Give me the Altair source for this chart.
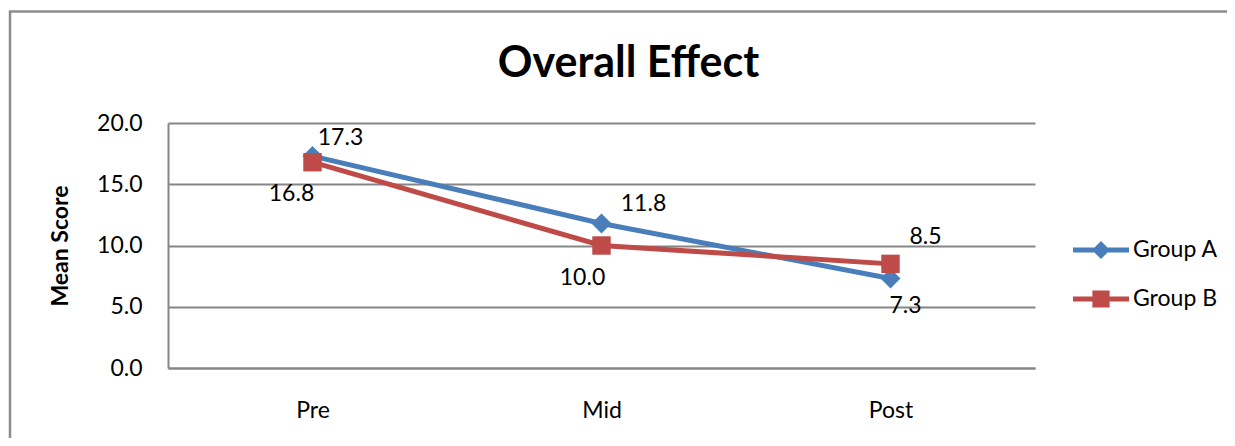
import altair as alt
import pandas as pd

# ---- data ----
times = ["Pre", "Mid", "Post"]
groups = ["Group A", "Group B"]
group_a = [17.3, 11.8, 7.3]
group_b = [16.8, 10.0, 8.5]
chart_title = "Overall Effect"

rows = []
for g, vals in zip(groups, [group_a, group_b]):
    for t, v in zip(times, vals):
        rows.append({"Time": t, "Group": g, "Score": v})
df = pd.DataFrame(rows)

# ---- styles ----
FONT = "Lato"
BLUE = "#4A7EBB"
RED = "#BE4B48"
GRID = "#868686"
colors = [BLUE, RED]
shapes = ["diamond", "square"]
sizes = [400, 340]
# label offsets (dx, dy) per group, per time
label_offsets = {
    "Group A": [(28, -18), (42, -19), (15, 27)],
    "Group B": [(-21, 32), (-19, 32), (35, -27)],
}

W, H = 867, 245

x_enc = alt.X("Time:N", sort=times,
              scale=alt.Scale(type="point", padding=0.5, domain=times),
              axis=alt.Axis(title=None, labelAngle=0, ticks=False, grid=False,
                            domain=True, domainColor=GRID, domainWidth=2,
                            labelFont=FONT, labelFontSize=23, labelColor="black",
                            labelPadding=31))
y_enc = alt.Y("Score:Q", scale=alt.Scale(domain=[0, 20], nice=False),
              axis=alt.Axis(title="Mean Score", values=[0, 5, 10, 15, 20], format=".1f",
                            grid=True, gridColor=GRID, gridWidth=2,
                            domain=True, domainColor=GRID, domainWidth=2,
                            ticks=False, labelFont=FONT, labelFontSize=23,
                            labelColor="black", labelPadding=26,
                            titleFont=FONT, titleFontSize=23, titleFontWeight="bold",
                            titleColor="black", titlePadding=24))

base = alt.Chart(df)

lines = base.mark_line(strokeWidth=5).encode(
    x=x_enc, y=y_enc,
    color=alt.Color("Group:N", scale=alt.Scale(domain=groups, range=colors), legend=None),
)

layers = [lines]
for g, c, s, sz in zip(groups, colors, shapes, sizes):
    layers.append(
        base.transform_filter(alt.datum.Group == g)
        .mark_point(shape=s, size=sz, filled=True, opacity=1, color=c, strokeWidth=0)
        .encode(x=x_enc, y=y_enc)
    )

for g in groups:
    for t, (dx, dy) in zip(times, label_offsets[g]):
        layers.append(
            base.transform_filter((alt.datum.Group == g) & (alt.datum.Time == t))
            .mark_text(font=FONT, fontSize=23, color="black", dx=dx, dy=dy,
                       align="center", baseline="middle")
            .encode(x=x_enc, y=y_enc, text=alt.Text("Score:Q", format=".1f"))
        )

# legend layer (empty data, explicit domains)
path_a = "M-1.4,-0.125L1.4,-0.125L1.4,0.125L-1.4,0.125Z M0,-0.45L0.45,0L0,0.45L-0.45,0Z"
path_b = "M-1.4,-0.125L1.4,-0.125L1.4,0.125L-1.4,0.125Z M-0.43,-0.43L0.43,-0.43L0.43,0.43L-0.43,0.43Z"
leg = alt.Legend(title=None, orient="none", legendX=913, legendY=107,
                 symbolSize=1600, symbolStrokeWidth=0, labelFont=FONT,
                 labelFontSize=23, labelColor="black", labelOffset=12,
                 rowPadding=17, padding=0)
legend_layer = base.transform_filter("false").mark_point(filled=True, opacity=1, strokeWidth=0).encode(
    x=x_enc, y=y_enc,
    color=alt.Color("Group:N", scale=alt.Scale(domain=groups, range=colors), legend=leg),
    shape=alt.Shape("Group:N", scale=alt.Scale(domain=groups, range=[path_a, path_b]), legend=leg),
)
layers.append(legend_layer)

# outer frame and title (decoration)
frame_data = alt.Data(values=[{"t": chart_title}])
top_border = alt.Chart(frame_data).mark_rule(color="#8C8C8C", strokeWidth=2.5).encode(
    x=alt.value(-159), x2=alt.value(1080), y=alt.value(-111.5))
left_border = alt.Chart(frame_data).mark_rule(color="#8C8C8C", strokeWidth=2.5).encode(
    x=alt.value(-158), y=alt.value(-112), y2=alt.value(340))
title_text = alt.Chart(frame_data).mark_text(
    font=FONT, fontSize=43, fontWeight="bold", color="black",
    align="center", baseline="alphabetic").encode(
    x=alt.value(460.5), y=alt.value(-46), text="t:N")

chart = alt.layer(top_border, left_border, title_text, *layers).resolve_scale(
    color="independent", shape="independent"
).properties(
    width=W, height=H,
    padding={"left": 160, "top": 115, "right": 192, "bottom": 70},
    autosize=alt.AutoSizeParams(type="none"),
).configure_view(stroke=None)

chart.save("out.html", embed_options={"renderer": "svg", "actions": False})
